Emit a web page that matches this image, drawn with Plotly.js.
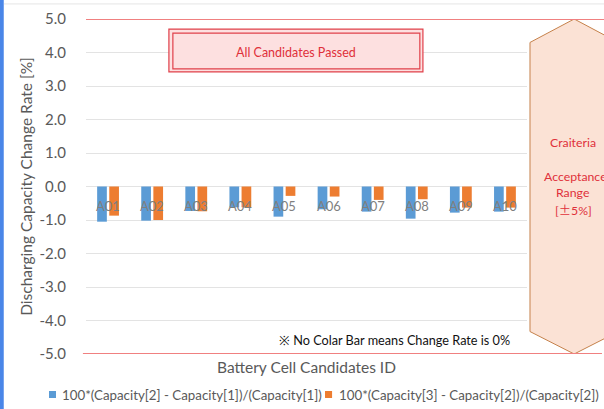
<!DOCTYPE html>
<html><head><meta charset="utf-8">
<script src="https://cdn.plot.ly/plotly-3.0.1.min.js"></script>
<style>html,body{margin:0;padding:0;background:#fff;}#chart{width:604px;height:409px;}</style>
</head><body><div id="chart"></div>
<script>
const categories = ['A01','A02','A03','A04','A05','A06','A07','A08','A09','A10'];
const rate21 = [-1.05,-1.02,-0.73,-0.62,-0.90,-0.68,-0.75,-0.96,-0.78,-0.75];
const rate32 = [-0.87,-1.00,-0.74,-0.62,-0.28,-0.30,-0.40,-0.38,-0.63,-0.63];
const name21 = '100*(Capacity[2] - Capacity[1])/(Capacity[1])';
const name32 = '100*(Capacity[3] - Capacity[2])/(Capacity[2])';
const yTicks = [5,4,3,2,1,0,-1,-2,-3,-4,-5];
const limits = [5,-5];

const FONT = 'Lato, "Open Sans", sans-serif';
const GRAY = '#595959';
const RED = '#e0303a';
const BLUE = '#5b9bd5';
const ORANGE = '#ed7d31';

const traces = [
  {type:'bar', x:categories, y:rate21, name:name21, marker:{color:BLUE}},
  {type:'bar', x:categories, y:rate32, name:name32, marker:{color:ORANGE}}
];

const shapes = [
  {type:'rect', xref:'paper', yref:'paper', x0:-0.2, x1:-0.1865, y0:-0.2, y1:1.1, fillcolor:'#4a86e8', line:{width:0}, layer:'below'},
  {type:'line', xref:'paper', yref:'paper', x0:-0.186, x1:1.2, y0:1.045, y1:1.045, line:{color:'#e6e6e6', width:1}},
  {type:'path', xref:'paper', yref:'y', path:'M 1.0068,4.3 L 1.107,5 L 1.207,4.3 L 1.207,-4.33 L 1.107,-5 L 1.0068,-4.33 Z',
   fillcolor:'#fbe2d5', line:{color:'#c5804a', width:1}},
  {type:'line', xref:'paper', yref:'y', x0:0, x1:1.18, y0:limits[0], y1:limits[0], line:{color:'#f08080', width:2}},
  {type:'line', xref:'paper', yref:'y', x0:-0.007, x1:1.17, y0:limits[1], y1:limits[1], line:{color:'#f08080', width:2}},
  {type:'rect', xref:'paper', yref:'y', x0:0.188, x1:0.764, y0:4.70, y1:3.42, fillcolor:'#fde0e0', line:{color:'#e0404a', width:1.2}},
  {type:'rect', xref:'paper', yref:'y', x0:0.197, x1:0.757, y0:4.58, y1:3.51, fillcolor:'rgba(0,0,0,0)', line:{color:'#e0404a', width:1.2}},
  // legend swatches
  {type:'rect', xref:'paper', yref:'paper', x0:-0.0839, x1:-0.068, y0:-0.1104, y1:-0.1313, fillcolor:BLUE, line:{width:0}},
  {type:'rect', xref:'paper', yref:'paper', x0:0.542, x1:0.558, y0:-0.1104, y1:-0.1313, fillcolor:ORANGE, line:{width:0}}
];

const annotations = [
  {xref:'paper', yref:'y', x:0.476, y:3.99, text:'All Candidates Passed', showarrow:false, font:{family:FONT, size:12.5, color:RED}},
  {xref:'paper', yref:'y', x:0.966, y:-4.58, xanchor:'right', text:'※ No Colar Bar means Change Rate is 0%', showarrow:false, font:{family:FONT, size:12.7, color:'#111'}},
  {xref:'paper', yref:'y', x:1.1054, y:1.30, xanchor:'center', text:'Craiteria', showarrow:false, font:{family:FONT, size:12.3, color:RED}},
  {xref:'paper', yref:'y', x:1.0333, y:0.284, xanchor:'left', text:'Acceptance', showarrow:false, font:{family:FONT, size:12.3, color:RED}},
  {xref:'paper', yref:'y', x:1.1054, y:-0.17, xanchor:'center', text:'Range', showarrow:false, font:{family:FONT, size:12.3, color:RED}},
  {xref:'paper', yref:'y', x:1.1054, y:-0.69, xanchor:'center', text:'[<span style="font-family:\'Noto Sans CJK JP\'">±</span>5%]', showarrow:false, font:{family:FONT, size:12.3, color:RED}},
  {xref:'paper', yref:'paper', x:-0.059, y:-0.121, xanchor:'left', yanchor:'middle', text:name21, showarrow:false, font:{family:FONT, size:13.3, color:GRAY}},
  {xref:'paper', yref:'paper', x:0.569, y:-0.121, xanchor:'left', yanchor:'middle', text:name32, showarrow:false, font:{family:FONT, size:13.3, color:GRAY}}
].concat(categories.map(c => ({x:c, y:0, yshift:-19, text:c, showarrow:false,
   font:{family:FONT, size:13, color:'#7f7f7f'}})));

const layout = {
  width:604, height:409,
  margin:{l:86, r:77, t:19, b:55, autoexpand:false},
  paper_bgcolor:'#fff', plot_bgcolor:'#fff',
  font:{family:FONT, color:GRAY},
  barmode:'group', bargap:0.45, bargroupgap:0.2,
  showlegend:false,
  xaxis:{type:'category', showticklabels:false, showgrid:false, zeroline:false, showline:false, ticks:'',
         title:{text:'Battery Cell Candidates ID', font:{family:FONT, size:15.5, color:GRAY}, standoff:8}},
  yaxis:{range:[-5,5], tickvals:yTicks, ticktext:yTicks.map(v=>v.toFixed(1)), showgrid:true, gridcolor:'#e3e3e3', gridwidth:1,
         zeroline:false, showline:false, ticks:'', tickfont:{family:FONT, size:15, color:GRAY}, ticklabelstandoff:19,
         title:{text:'Discharging Capacity Change Rate [%]', font:{family:FONT, size:15.5, color:GRAY}, standoff:3}},
  shapes:shapes, annotations:annotations
};

Plotly.newPlot('chart', traces, layout, {displayModeBar:false, staticPlot:true});
</script></body></html>
